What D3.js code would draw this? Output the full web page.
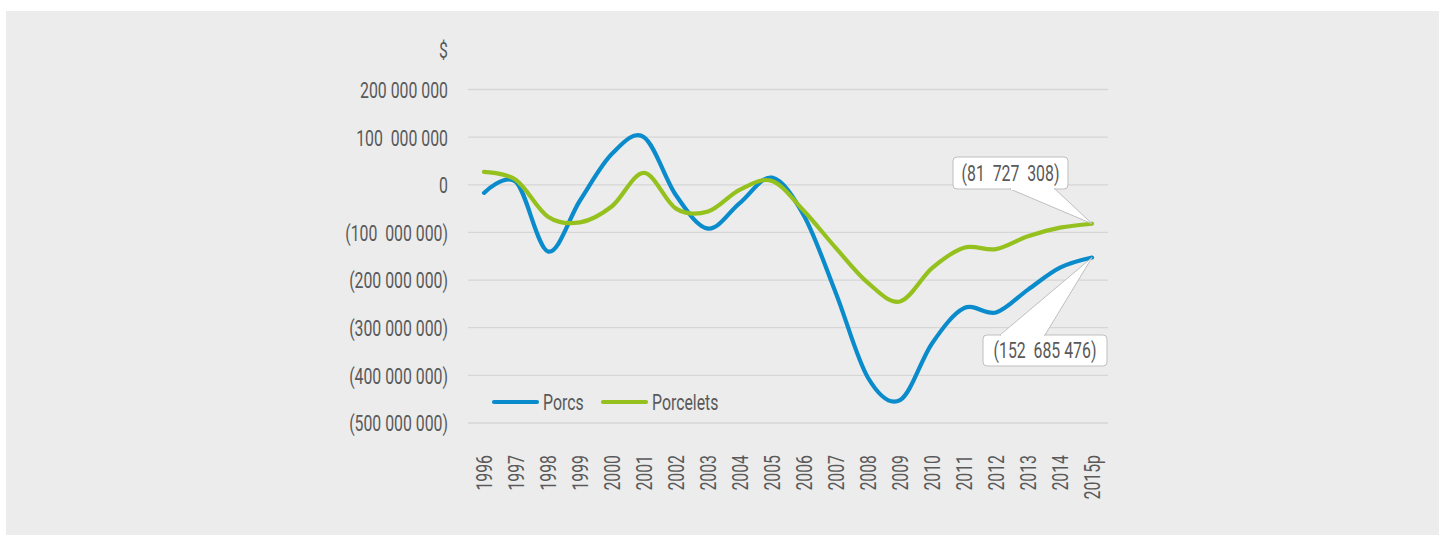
<!DOCTYPE html>
<html>
<head>
<meta charset="utf-8">
<script src="https://cdn.jsdelivr.net/npm/d3@7"></script>
<style>
  html, body { margin: 0; padding: 0; background: #ffffff; }
  svg { display: block; }
  text { font-family: Roboto, "Noto Sans", sans-serif; fill: #595959; white-space: pre; }
</style>
</head>
<body>
<svg id="chart" width="1440" height="536"></svg>
<script>
const years = ["1996","1997","1998","1999","2000","2001","2002","2003","2004","2005","2006","2007","2008","2009","2010","2011","2012","2013","2014","2015p"];
const porcs = [-17e6, 6e6, -140e6, -33e6, 65e6, 100e6, -22e6, -92e6, -38e6, 15e6, -65e6, -228e6, -405e6, -452e6, -333e6, -259e6, -268e6, -220e6, -174e6, -152685476];
const porcelets = [27e6, 10e6, -67e6, -79e6, -45e6, 25e6, -50e6, -56e6, -10e6, 8e6, -55e6, -133e6, -206e6, -245e6, -175e6, -132e6, -135e6, -108e6, -90e6, -81727308];
const yTicks = [200e6, 100e6, 0, -100e6, -200e6, -300e6, -400e6, -500e6];
const yTickLabels = ["200 000 000", "100  000 000", "0", "(100  000 000)", "(200 000 000)", "(300 000 000)", "(400 000 000)", "(500 000 000)"];
const seriesNames = ["Porcs", "Porcelets"];
const seriesColors = ["#0a8bcb", "#95c11f"];
const calloutLabels = ["(152  685 476)", "(81  727  308)"];

const FS = "22px";
const SX = 0.72;

const svg = d3.select("#chart");
svg.append("rect").attr("x", 6).attr("y", 11).attr("width", 1433).attr("height", 524).attr("fill", "#ececec");

const x = d3.scaleBand().domain(years).range([468, 1108]);
const y = d3.scaleLinear().domain([-500e6, 200e6]).range([423, 89.5]);
const cx = d => x(d) + x.bandwidth() / 2;

// gridlines
svg.append("g").selectAll("line").data(yTicks).join("line")
  .attr("x1", 468).attr("x2", 1108)
  .attr("y1", d => y(d)).attr("y2", d => y(d))
  .attr("stroke", "#d6d6d6").attr("stroke-width", 1.3);

// y axis labels
const yAxis = d3.axisLeft(y).tickValues(yTicks).tickSize(0).tickPadding(0)
  .tickFormat((d, i) => yTickLabels[i]);
const gy = svg.append("g").attr("transform", "translate(448,0)").call(yAxis);
gy.select(".domain").remove();
gy.selectAll("text").style("font-size", FS).attr("fill", "#595959")
  .attr("x", 0).attr("dy", "0.36em").attr("transform", `scale(${SX},1)`);

svg.append("text").attr("transform", `translate(448,50) scale(${SX},1)`).attr("text-anchor", "end")
  .attr("dy", "0.36em").style("font-size", FS).text("$");

// x axis labels
const xAxis = d3.axisBottom(x).tickSize(0).tickPadding(0);
const gx = svg.append("g").attr("transform", "translate(0,455)").call(xAxis);
gx.select(".domain").remove();
gx.selectAll("text")
  .style("font-size", FS).attr("fill", "#595959")
  .attr("text-anchor", "end")
  .attr("transform", `rotate(-90) scale(${SX},1)`)
  .attr("x", 0).attr("y", 0).attr("dx", 0).attr("dy", "0.36em");

// lines
const line = d3.line().x((d, i) => cx(years[i])).y(d => y(d)).curve(d3.curveCardinal.tension(0));
[porcs, porcelets].forEach((s, k) => {
  svg.append("path").datum(s).attr("d", line)
    .attr("fill", "none").attr("stroke", seriesColors[k])
    .attr("stroke-width", 4.2).attr("stroke-linecap", "round").attr("stroke-linejoin", "round");
});

// legend
const leg = svg.append("g");
const legX = [494, 603];
seriesNames.forEach((n, k) => {
  leg.append("line").attr("x1", legX[k]).attr("x2", legX[k] + 43).attr("y1", 402).attr("y2", 402)
    .attr("stroke", seriesColors[k]).attr("stroke-width", 4.2).attr("stroke-linecap", "round");
  leg.append("text").attr("transform", `translate(${legX[k] + 49},402) scale(${SX},1)`).attr("dy", "0.36em")
    .style("font-size", FS).text(n);
});

// callouts
const last = years.length - 1;
const callouts = [
  { v: porcs[last], box: [983, 335, 124, 31], base: [1000, 1045], side: "top", label: calloutLabels[0] },
  { v: porcelets[last], box: [953, 157, 115, 32], base: [1010, 1055], side: "bottom", label: calloutLabels[1] }
];
callouts.forEach(c => {
  const px = cx(years[last]), py = y(c.v);
  const [bx, by, bw, bh] = c.box;
  const g = svg.append("g");
  const edgeY = c.side === "top" ? by : by + bh;
  g.append("rect").attr("x", bx).attr("y", by).attr("width", bw).attr("height", bh)
    .attr("rx", 4).attr("fill", "#ffffff").attr("stroke", "#bfbfbf").attr("stroke-width", 1);
  g.append("path")
    .attr("d", `M${c.base[0]},${edgeY} L${px},${py} L${c.base[1]},${edgeY} Z`)
    .attr("fill", "#ffffff").attr("stroke", "#bfbfbf").attr("stroke-width", 1);
  g.append("line").attr("x1", c.base[0] + 1).attr("x2", c.base[1] - 1)
    .attr("y1", edgeY).attr("y2", edgeY).attr("stroke", "#ffffff").attr("stroke-width", 2);
  g.append("text").attr("transform", `translate(${bx + bw / 2},${by + bh / 2}) scale(${SX},1)`).attr("dy", "0.36em")
    .attr("text-anchor", "middle").style("font-size", FS).text(c.label);
});
</script>
</body>
</html>
